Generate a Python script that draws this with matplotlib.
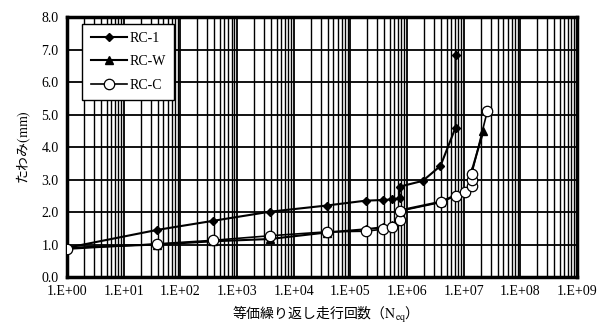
import numpy as np
import matplotlib
matplotlib.use("Agg")
import matplotlib.pyplot as plt
from matplotlib.ticker import FixedLocator, FuncFormatter, LogLocator, NullFormatter

plt.rcParams['font.family'] = ['Liberation Serif', 'DejaVu Serif']
plt.rcParams['mathtext.fontset'] = 'stix'

# 等価繰り返し走行回数 と たわみ(mm)
n_rc1 = [1, 39, 380, 3800, 38000, 186000, 370000, 550000, 740000, 740000,
         1.9e6, 3.9e6, 7.2e6, 7.2e6]
d_rc1 = [0.90, 1.45, 1.73, 2.01, 2.20, 2.35, 2.37, 2.39, 2.42, 2.78,
         2.96, 3.42, 4.60, 6.83]

n_rcw = [1, 39, 380, 3800, 38000, 186000, 370000, 550000, 740000, 740000,
         4.0e6, 7.2e6, 1.05e7, 1.38e7, 1.38e7, 2.24e7]
d_rcw = [0.90, 1.00, 1.10, 1.17, 1.37, 1.47, 1.53, 1.60, 1.80, 2.05,
         2.32, 2.52, 2.65, 2.85, 3.25, 4.50]

n_rcc = [1, 39, 380, 3800, 38000, 186000, 370000, 550000, 740000, 740000,
         4.0e6, 7.2e6, 1.05e7, 1.38e7, 1.38e7, 1.38e7, 2.63e7]
d_rcc = [0.86, 1.02, 1.13, 1.27, 1.39, 1.41, 1.47, 1.55, 1.77, 2.03,
         2.30, 2.50, 2.63, 2.81, 2.98, 3.16, 5.12]

fig = plt.figure(figsize=(6.01, 3.29), dpi=100)
ax = fig.add_axes([0.1115, 0.158, 0.8485, 0.79])

ax.plot(n_rc1, d_rc1, color='black', lw=1.5, marker='D', ms=4.5,
        mfc='black', mec='black', label='RC-1', zorder=3)
ax.plot(n_rcw, d_rcw, color='black', lw=1.5, marker='^', ms=6,
        mfc='black', mec='black', label='RC-W', zorder=4)
ax.plot(n_rcc, d_rcc, color='black', lw=1.2, marker='o', ms=7.5,
        mfc='white', mec='black', mew=0.9, label='RC-C', zorder=5)

ax.set_xscale('log')
ax.set_xlim(1, 1e9)
ax.set_ylim(0, 8)
ax.xaxis.set_major_locator(FixedLocator([10.0 ** k for k in range(10)]))
ax.xaxis.set_minor_locator(LogLocator(base=10, subs=np.arange(2, 10), numticks=20))
ax.xaxis.set_minor_formatter(NullFormatter())
ax.xaxis.set_major_formatter(FuncFormatter(
    lambda v, p: "1.E+%02d" % int(round(np.log10(v)))))
ax.set_yticks(np.arange(0, 8.01, 1.0))
ax.yaxis.set_major_formatter(FuncFormatter(lambda v, p: "%.1f" % v))

ax.grid(True, which='major', axis='both', color='black', lw=1.3)
ax.grid(True, which='minor', axis='x', color='black', lw=1.0)
ax.set_axisbelow(True)
ax.tick_params(which='both', direction='in', length=0, labelsize=10, pad=6)
for s in ax.spines.values():
    s.set_linewidth(2.5)

ax.set_ylabel("たわみ$\\mathrm{(mm)}$", fontsize=10,
              family=['Noto Sans CJK JP', 'DejaVu Sans'], labelpad=6)
ax.set_xlabel("等価繰り返し走行回数（$\\mathrm{N_{eq}}$）", fontsize=10,
              family=['Noto Sans CJK JP', 'DejaVu Sans'], labelpad=4)

leg = ax.legend(loc='upper left', bbox_to_anchor=(0.03, 0.975), fontsize=10,
                frameon=True, fancybox=False, shadow=False, handlelength=2.6,
                borderpad=0.6, labelspacing=0.75, handletextpad=0.2,
                borderaxespad=0.0)
leg.get_frame().set_edgecolor('black')
leg.get_frame().set_linewidth(1.0)
leg.get_frame().set_alpha(1.0)

fig.savefig("out.png", dpi=100)
